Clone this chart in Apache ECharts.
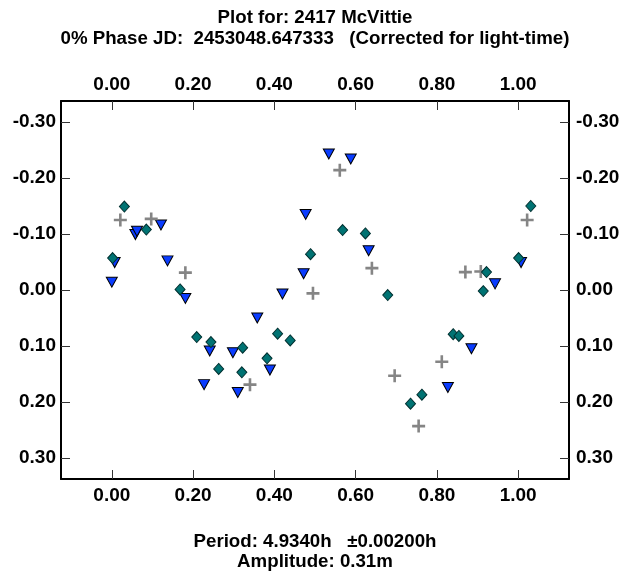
<!DOCTYPE html>
<html>
<head>
<meta charset="utf-8">
<script src="https://cdn.jsdelivr.net/npm/echarts@6/dist/echarts.min.js"></script>
<style>
html,body{margin:0;padding:0;background:#fff;}
#chart{width:623px;height:574px;}
</style>
</head>
<body>
<div id="chart"></div>
<script>
// Phase / magnitude data, series 1 (blue triangles)
const triPhase = [0.000, 0.007, 0.058, 0.062, 0.121, 0.137, 0.181, 0.227, 0.241, 0.298, 0.310, 0.358, 0.389, 0.420, 0.472, 0.477, 0.534, 0.588, 0.632, 0.827, 0.885, 0.943, 1.007];
const triMag   = [-0.014, -0.049, -0.099, -0.105, -0.116, -0.052, 0.015, 0.169, 0.109, 0.112, 0.183, 0.050, 0.143, 0.007, -0.029, -0.135, -0.243, -0.234, -0.070, 0.174, 0.105, -0.011, -0.049];
// series 2 (teal diamonds)
const diaPhase = [0.002, 0.031, 0.085, 0.168, 0.209, 0.244, 0.263, 0.320, 0.322, 0.382, 0.408, 0.439, 0.489, 0.568, 0.624, 0.679, 0.735, 0.763, 0.840, 0.854, 0.914, 0.922, 1.001, 1.031];
const diaMag   = [-0.057, -0.149, -0.108, -0.001, 0.084, 0.093, 0.141, 0.147, 0.103, 0.122, 0.078, 0.090, -0.064, -0.107, -0.101, 0.009, 0.203, 0.187, 0.079, 0.082, 0.002, -0.032, -0.057, -0.150];
// series 3 (grey plus)
const plusPhase = [0.021, 0.097, 0.181, 0.340, 0.495, 0.561, 0.640, 0.696, 0.755, 0.812, 0.870, 0.908, 1.022];
const plusMag   = [-0.125, -0.127, -0.031, 0.169, 0.006, -0.214, -0.039, 0.153, 0.243, 0.128, -0.032, -0.033, -0.125];

// axis ticks
const xTicks = [0.0, 0.2, 0.4, 0.6, 0.8, 1.0];
const yTicks = [-0.3, -0.2, -0.1, 0.0, 0.1, 0.2, 0.3];
const xRange = [-0.125, 1.125];
const yRange = [-0.3375, 0.3375];

const titleLine1 = 'Plot for: 2417 McVittie';
const titleLine2 = '0% Phase JD:  2453048.647333   (Corrected for light-time)';
const footLine1 = 'Period: 4.9340h   \u00b10.00200h';
const footLine2 = 'Amplitude: 0.31m';

const zip = (a, b) => a.map((v, i) => [v, b[i]]);
const fmt = v => { let s = Number(v).toFixed(2); if (s === '-0.00') s = '0.00'; return s; };
const FONT = '"Liberation Sans", Arial, sans-serif';
const TFONT = 'bold 18.7px ' + FONT;

function xAxisDef(pos) {
  return {
    type: 'value', position: pos, min: xRange[0], max: xRange[1],
    axisLine: { show: true, onZero: false, lineStyle: { color: '#000', width: 2 } },
    axisTick: { show: true, inside: true, length: 9, customValues: xTicks, lineStyle: { color: '#333', width: 1 } },
    axisLabel: { show: true, customValues: xTicks, formatter: fmt, margin: 7,
      fontFamily: FONT, fontWeight: 'bold', fontSize: 19, color: '#000' },
    splitLine: { show: false }
  };
}
function yAxisDef(pos) {
  return {
    type: 'value', position: pos, inverse: true, min: yRange[0], max: yRange[1],
    axisLine: { show: true, onZero: false, lineStyle: { color: '#000', width: 2 } },
    axisTick: { show: true, inside: true, length: 9, customValues: yTicks, lineStyle: { color: '#333', width: 1 } },
    axisLabel: { show: true, customValues: yTicks, formatter: fmt, margin: pos === 'left' ? 5 : 7,
      align: pos === 'left' ? 'right' : 'left',
      fontFamily: FONT, fontWeight: 'bold', fontSize: 19, color: '#000' },
    splitLine: { show: false }
  };
}

const plusPath = 'path://M4,0 L6,0 L6,4 L10,4 L10,6 L6,6 L6,10 L4,10 L4,6 L0,6 L0,4 L4,4 Z';

const chart = echarts.init(document.getElementById('chart'), null, { renderer: 'canvas' });
chart.setOption({
  animation: false,
  backgroundColor: '#fff',
  grid: { left: 61, right: 54, top: 101, bottom: 95, containLabel: false },
  xAxis: [xAxisDef('bottom'), xAxisDef('top')],
  yAxis: [yAxisDef('left'), yAxisDef('right')],
  graphic: [
    { type: 'text', style: { x: 315, y: 18, text: titleLine1, font: TFONT, textAlign: 'center', textVerticalAlign: 'middle', fill: '#000' } },
    { type: 'text', style: { x: 315, y: 39, text: titleLine2, font: TFONT, textAlign: 'center', textVerticalAlign: 'middle', fill: '#000' } },
    { type: 'text', style: { x: 315, y: 542, text: footLine1, font: TFONT, textAlign: 'center', textVerticalAlign: 'middle', fill: '#000' } },
    { type: 'text', style: { x: 315, y: 562, text: footLine2, font: TFONT, textAlign: 'center', textVerticalAlign: 'middle', fill: '#000' } }
  ],
  series: [
    { type: 'scatter', xAxisIndex: 0, yAxisIndex: 0, data: zip(triPhase, triMag),
      symbol: 'triangle', symbolRotate: 180, symbolSize: [11, 10],
      itemStyle: { color: '#0a3cff', borderColor: '#000', borderWidth: 1, opacity: 1 }, z: 2 },
    { type: 'scatter', xAxisIndex: 0, yAxisIndex: 0, data: zip(plusPhase, plusMag),
      symbol: plusPath, symbolSize: 13,
      itemStyle: { color: '#858585', opacity: 1 }, z: 3 },
    { type: 'scatter', xAxisIndex: 0, yAxisIndex: 0, data: zip(diaPhase, diaMag),
      symbol: 'diamond', symbolSize: [10, 11],
      itemStyle: { color: '#007373', borderColor: '#003030', borderWidth: 1, opacity: 1 }, z: 4 }
  ]
});
</script>
</body>
</html>
